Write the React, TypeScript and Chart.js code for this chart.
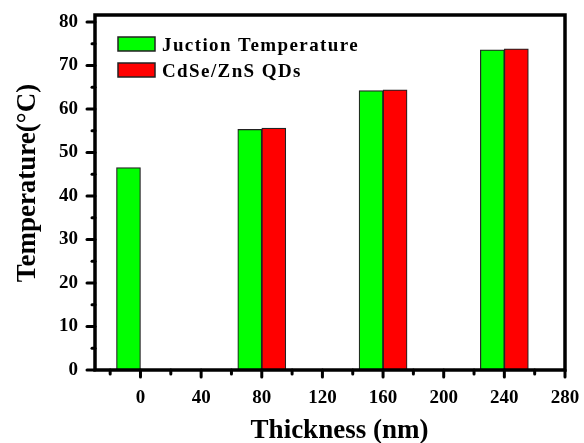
import React, { useEffect, useRef } from 'react';
import { Chart, registerables } from 'chart.js';

Chart.register(...registerables);

// ---- data ----
const thickness = [0, 80, 160, 240];
const junctionTemp = [46.5, 55.3, 64.2, 73.6];
const qdTemp: (number | null)[] = [null, 55.6, 64.4, 73.8];
const seriesLabels = ['Juction Temperature', 'CdSe/ZnS QDs'];
const xTitle = 'Thickness (nm)';
const yTitle = 'Temperature(\u00B0C)';
const xRange = [-30, 280];
const yRange = [0, 81.6];
const xTickValues = [-20, 0, 20, 40, 60, 80, 100, 120, 140, 160, 180, 200, 220, 240, 260, 280];
const yTickValues = [0, 5, 10, 15, 20, 25, 30, 35, 40, 45, 50, 55, 60, 65, 70, 75, 80];

const FONT = "'Liberation Serif', 'Times New Roman', serif";
const GREEN = '#00ff00';
const RED = '#ff0000';

const decorPlugin = {
  id: 'decor',
  afterDraw(chart: any) {
    const { ctx, chartArea } = chart;
    const xs = chart.scales.x;
    const ys = chart.scales.y;
    ctx.save();
    // frame
    ctx.strokeStyle = '#000';
    ctx.lineWidth = 3.5;
    ctx.strokeRect(chartArea.left, chartArea.top, chartArea.right - chartArea.left, chartArea.bottom - chartArea.top);
    // ticks
    ctx.lineWidth = 3;
    ctx.lineCap = 'round';
    ys.ticks.forEach((t: any) => {
      const major = Math.abs(t.value % 10) < 1e-6;
      const py = ys.getPixelForValue(t.value);
      ctx.beginPath();
      ctx.moveTo(chartArea.left, py);
      ctx.lineTo(chartArea.left - (major ? 8 : 3), py);
      ctx.stroke();
    });
    xs.ticks.forEach((t: any) => {
      const major = Math.abs(t.value % 40) < 1e-6;
      const px = xs.getPixelForValue(t.value);
      ctx.beginPath();
      ctx.moveTo(px, chartArea.bottom);
      ctx.lineTo(px, chartArea.bottom + (major ? 7 : 4));
      ctx.stroke();
    });
    // legend
    ctx.letterSpacing = '1.4px';
    ctx.font = `bold 19px ${FONT}`;
    ctx.textBaseline = 'alphabetic';
    ctx.textAlign = 'left';
    chart.data.datasets.forEach((ds: any, i: number) => {
      const bx = chartArea.left + 23;
      const by = chartArea.top + 22 + i * 26;
      ctx.fillStyle = ds.backgroundColor;
      ctx.fillRect(bx, by, 37, 14);
      ctx.strokeStyle = '#222';
      ctx.lineWidth = 1.5;
      ctx.lineCap = 'butt';
      ctx.strokeRect(bx, by, 37, 14);
      ctx.fillStyle = '#000';
      ctx.fillText(ds.label, bx + 44, by + 14);
    });
    // axis titles
    ctx.letterSpacing = '0px';
    ctx.font = `bold 27px ${FONT}`;
    ctx.fillStyle = '#000';
    ctx.textAlign = 'center';
    ctx.fillText(xTitle, 339.5, 438);
    ctx.translate(35, 183);
    ctx.rotate(-Math.PI / 2);
    ctx.fillText(yTitle, 0, 0);
    ctx.restore();
  },
};

export default function App() {
  const ref = useRef<HTMLCanvasElement>(null);
  useEffect(() => {
    document.body.style.margin = '0';
    const canvas = ref.current!;
    const chart = new Chart(canvas, {
      type: 'bar',
      data: {
        datasets: [
          {
            label: seriesLabels[0],
            data: thickness.map((x, i) => ({ x, y: junctionTemp[i] })),
            backgroundColor: GREEN,
            borderColor: '#222',
            borderWidth: 1.2,
          },
          {
            label: seriesLabels[1],
            data: thickness.map((x, i) => ({ x, y: qdTemp[i] })),
            backgroundColor: RED,
            borderColor: '#222',
            borderWidth: 1.2,
          },
        ] as any,
      },
      options: {
        animation: false,
        responsive: false,
        barThickness: 24,
        layout: { padding: { left: 0, top: 15, right: 19, bottom: 0 } },
        plugins: {
          legend: { display: false },
          tooltip: { enabled: false },
        },
        scales: {
          x: {
            type: 'linear',
            position: 'bottom',
            min: xRange[0],
            max: xRange[1],
            offset: false,
            afterFit: (s: any) => {
              s.height = 73;
              s.paddingLeft = 0;
              s.paddingRight = 0;
            },
            afterBuildTicks: (s: any) => { s.ticks = xTickValues.map((value) => ({ value })); },
            grid: { display: false, drawTicks: false, offset: false },
            border: { display: false },
            ticks: {
              autoSkip: false,
              maxRotation: 0,
              padding: 17,
              color: '#000',
              font: { family: FONT, size: 19, weight: 'bold' },
              callback: (v: any) => (Math.abs(v % 40) < 1e-6 ? String(v) : ''),
            },
          },
          y: {
            min: yRange[0],
            max: yRange[1],
            afterFit: (s: any) => {
              s.width = 95;
              s.paddingTop = 0;
              s.paddingBottom = 0;
            },
            afterBuildTicks: (s: any) => { s.ticks = yTickValues.map((value) => ({ value })); },
            grid: { display: false, drawTicks: false },
            border: { display: false },
            ticks: {
              autoSkip: false,
              padding: 17,
              color: '#000',
              font: { family: FONT, size: 19, weight: 'bold' },
              callback: (v: any) => (Math.abs(v % 10) < 1e-6 ? String(v) : ''),
            },
          },
        },
      } as any,
      plugins: [decorPlugin],
    });
    return () => chart.destroy();
  }, []);
  return (
    <div style={{ width: 584, height: 443, background: '#fff' }}>
      <canvas ref={ref} width={584} height={443} />
    </div>
  );
}
